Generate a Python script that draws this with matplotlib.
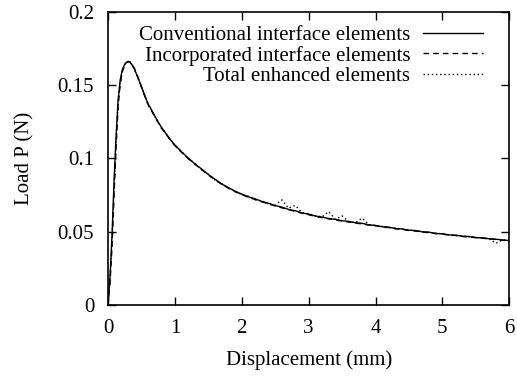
#Load-displacement curves for the three element formulations
import numpy as np
import matplotlib.pyplot as plt

plt.rcParams["font.family"] = ["Liberation Serif", "DejaVu Serif"]
plt.rcParams["font.size"] = 15

# displacement (mm), shared by the three runs
disp = [0.00, 0.03, 0.06, 0.09, 0.12, 0.15, 0.18, 0.21, 0.24, 0.27, 0.30, 0.33, 0.36,
        0.40, 0.45, 0.50, 0.55, 0.60, 0.65, 0.70, 0.75, 0.80, 0.85, 0.90, 0.95, 1.00,
        1.10, 1.20, 1.30, 1.40, 1.50, 1.60, 1.70, 1.80, 1.90, 2.00,
        2.10, 2.20, 2.30, 2.40, 2.50, 2.60, 2.70, 2.80, 2.90, 3.00,
        3.10, 3.20, 3.30, 3.40, 3.50, 3.60, 3.70, 3.80, 3.90, 4.00,
        4.10, 4.20, 4.30, 4.40, 4.50, 4.60, 4.70, 4.80, 4.90, 5.00,
        5.10, 5.20, 5.30, 5.40, 5.50, 5.60, 5.70, 5.80, 5.90, 6.00]

# load P (N)
load_conventional = [0.0000, 0.0200, 0.0480, 0.0850, 0.1150, 0.1400, 0.1530, 0.1600, 0.1635, 0.1655, 0.1662, 0.1655, 0.1638,
                     0.1605, 0.1548, 0.1490, 0.1428, 0.1372, 0.1332, 0.1290, 0.1248, 0.1212, 0.1180, 0.1150, 0.1118, 0.1092,
                     0.1045, 0.1003, 0.0962, 0.0928, 0.0890, 0.0858, 0.0826, 0.0801, 0.0776, 0.0757,
                     0.0738, 0.0724, 0.0707, 0.0694, 0.0678, 0.0668, 0.0652, 0.0643, 0.0628, 0.0620,
                     0.0607, 0.0600, 0.0590, 0.0584, 0.0575, 0.0570, 0.0561, 0.0557, 0.0547, 0.0543,
                     0.0534, 0.0531, 0.0522, 0.0519, 0.0510, 0.0508, 0.0499, 0.0497, 0.0488, 0.0486,
                     0.0478, 0.0476, 0.0469, 0.0467, 0.0460, 0.0458, 0.0452, 0.0449, 0.0443, 0.0440]

load_incorporated = [0.0000, 0.0150, 0.0400, 0.0750, 0.1080, 0.1350, 0.1500, 0.1585, 0.1628, 0.1652, 0.1662, 0.1660, 0.1645,
                     0.1610, 0.1552, 0.1488, 0.1424, 0.1368, 0.1326, 0.1286, 0.1245, 0.1208, 0.1176, 0.1146, 0.1116, 0.1088,
                     0.1041, 0.0999, 0.0960, 0.0924, 0.0887, 0.0855, 0.0823, 0.0798, 0.0773, 0.0753,
                     0.0735, 0.0720, 0.0704, 0.0690, 0.0676, 0.0663, 0.0650, 0.0639, 0.0626, 0.0616,
                     0.0605, 0.0596, 0.0588, 0.0580, 0.0573, 0.0566, 0.0559, 0.0553, 0.0545, 0.0540,
                     0.0532, 0.0528, 0.0520, 0.0516, 0.0508, 0.0505, 0.0497, 0.0494, 0.0487, 0.0484,
                     0.0476, 0.0474, 0.0467, 0.0465, 0.0459, 0.0456, 0.0450, 0.0447, 0.0442, 0.0438]

load_enhanced = [0.0000, 0.0180, 0.0450, 0.0800, 0.1110, 0.1380, 0.1520, 0.1595, 0.1632, 0.1655, 0.1663, 0.1658, 0.1640,
                 0.1600, 0.1545, 0.1485, 0.1430, 0.1365, 0.1330, 0.1285, 0.1250, 0.1205, 0.1182, 0.1143, 0.1120, 0.1086,
                 0.1048, 0.0998, 0.0966, 0.0922, 0.0893, 0.0853, 0.0829, 0.0796, 0.0779, 0.0752,
                 0.0742, 0.0719, 0.0710, 0.0689, 0.0681, 0.0717, 0.0660, 0.0680, 0.0630, 0.0622,
                 0.0609, 0.0601, 0.0637, 0.0585, 0.0608, 0.0569, 0.0563, 0.0592, 0.0549, 0.0542,
                 0.0536, 0.0529, 0.0524, 0.0517, 0.0512, 0.0506, 0.0501, 0.0495, 0.0490, 0.0485,
                 0.0479, 0.0475, 0.0470, 0.0466, 0.0461, 0.0457, 0.0451, 0.0421, 0.0444, 0.0439]

labels = ["Conventional interface elements", "Incorporated interface elements", "Total enhanced elements"]

fig = plt.figure(figsize=(5.17, 3.76), dpi=100)
ax = fig.add_axes([0.209, 0.189, 0.776, 0.779])

ax.plot(disp, load_conventional, color="black", lw=1.0, ls="-", label=labels[0])
ax.plot(disp, load_incorporated, color="black", lw=1.0, ls=(0, (4, 3)), label=labels[1])
ax.plot(disp, load_enhanced, color="black", lw=1.0, ls=(0, (1, 2)), label=labels[2])

ax.set_xlim(0, 6); ax.set_ylim(0, 0.2)
ax.set_xticks(np.arange(0, 7, 1))
ax.set_yticks([0, 0.05, 0.1, 0.15, 0.2])
ax.set_yticklabels(["0", "0.05", "0.1", "0.15", "0.2"])
ax.tick_params(direction="in", length=6, width=1, top=True, right=True, pad=10)
for sp in ax.spines.values():
    sp.set_linewidth(1.2)

ax.set_xlabel("Displacement (mm)", labelpad=9)
ax.set_ylabel("Load P (N)", labelpad=17)

ax.legend(loc="upper right", bbox_to_anchor=(0.935, 0.955), frameon=False, markerfirst=False,
          handlelength=2.9, handletextpad=0.6, labelspacing=0.05, borderpad=0, borderaxespad=0)

fig.savefig("out.png", dpi=100)
